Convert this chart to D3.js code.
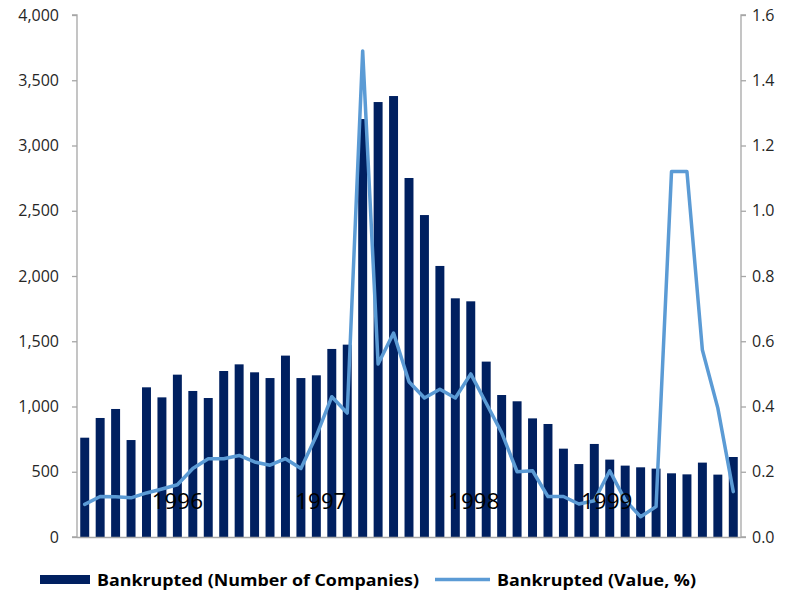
<!DOCTYPE html>
<html>
<head>
<meta charset="utf-8">
<script src="https://cdn.jsdelivr.net/npm/d3@7"></script>
<style>
  html, body { margin: 0; padding: 0; background: #fff; }
  svg { display: block; font-family: "Open Sans", "Noto Sans", sans-serif; }
</style>
</head>
<body>
<svg id="chart" width="789" height="594"></svg>
<script>
// Period index of each observation (43 periods)
const periods = d3.range(1, 44);

// Number of bankrupted companies per period (left axis)
const bankruptCount = [
  761, 912, 981, 743, 1147, 1070, 1244, 1119, 1065, 1272,
  1323, 1262, 1218, 1390, 1218, 1239, 1441, 1474, 3203, 3333,
  3379, 2751, 2467, 2077, 1829, 1806, 1344, 1088, 1040, 909,
  866, 677, 559, 713, 593, 547, 534, 524, 488, 480,
  570, 478, 613
];

// Bankrupted value share, % (right axis)
const bankruptValue = [
  0.10, 0.124, 0.123, 0.12, 0.135, 0.147, 0.16, 0.21, 0.24, 0.24,
  0.25, 0.23, 0.22, 0.24, 0.21, 0.31, 0.43, 0.38, 1.49, 0.53,
  0.625, 0.476, 0.426, 0.453, 0.426, 0.50, 0.41, 0.32, 0.20, 0.203,
  0.124, 0.124, 0.101, 0.111, 0.203, 0.113, 0.062, 0.093, 1.12, 1.12,
  0.573, 0.395, 0.139
];

// Year labels and the period position they sit over
const yearLabels = ["1996", "1997", "1998", "1999"];
const yearPositions = [6.0, 15.3, 25.2, 33.8];

// Axis ticks
const leftTicks = [0, 500, 1000, 1500, 2000, 2500, 3000, 3500, 4000];
const rightTicks = [0, 0.2, 0.4, 0.6, 0.8, 1.0, 1.2, 1.4, 1.6];

const seriesNames = ["Bankrupted (Number of Companies)", "Bankrupted (Value, %)"];

const barColor = "#002060";
const lineColor = "#5B9BD5";
const axisColor = "#a6a6a6";
const tickText = "#262626";

const svg = d3.select("#chart");
const plot = { left: 77, right: 741, top: 15, bottom: 537 };

const x = d3.scaleBand()
  .domain(periods)
  .range([plot.left, plot.right])
  .paddingInner(0.42)
  .paddingOuter(0.21);

const yLeft = d3.scaleLinear().domain([0, 4000]).range([plot.bottom, plot.top]);
const yRight = d3.scaleLinear().domain([0, 1.6]).range([plot.bottom, plot.top]);

// position scale for labels placed by period index
const xPos = d3.scaleLinear()
  .domain([0, periods.length])
  .range([plot.left, plot.right]);

// Bars
svg.append("g")
  .selectAll("rect")
  .data(bankruptCount)
  .join("rect")
  .attr("x", (d, i) => x(periods[i]))
  .attr("y", d => yLeft(d))
  .attr("width", x.bandwidth())
  .attr("height", d => yLeft(0) - yLeft(d))
  .attr("fill", barColor);

// Line
const line = d3.line()
  .x((d, i) => x(periods[i]) + x.bandwidth() / 2)
  .y(d => yRight(d));

svg.append("path")
  .datum(bankruptValue)
  .attr("d", line)
  .attr("fill", "none")
  .attr("stroke", lineColor)
  .attr("stroke-width", 3.5)
  .attr("stroke-linejoin", "round")
  .attr("stroke-linecap", "round");

// Year labels inside the plot, drawn above the series
svg.append("g")
  .selectAll("text")
  .data(yearLabels)
  .join("text")
  .attr("x", (d, i) => xPos(yearPositions[i] + 0.5))
  .attr("y", 509)
  .attr("text-anchor", "middle")
  .attr("font-size", 22.5)
  .attr("fill", "#000")
  .text(d => d);

// Axes
const leftAxis = d3.axisLeft(yLeft)
  .tickValues(leftTicks)
  .tickFormat(d3.format(","))
  .tickSize(5)
  .tickPadding(13);

const rightAxis = d3.axisRight(yRight)
  .tickValues(rightTicks)
  .tickFormat(d3.format(".1f"))
  .tickSize(5)
  .tickPadding(6);

function styleAxis(g) {
  g.select(".domain").attr("stroke", axisColor).attr("stroke-width", 1.3);
  g.selectAll(".tick line").attr("stroke", axisColor).attr("stroke-width", 1.3);
  g.selectAll(".tick text")
    .attr("fill", tickText)
    .attr("font-size", 16)
    .attr("font-family", "'Open Sans', 'Noto Sans', sans-serif");
}

svg.append("g")
  .attr("transform", `translate(${plot.left},0)`)
  .call(leftAxis)
  .call(g => g.select(".domain").attr("d", `M-5,${plot.top}H0V${plot.bottom}H-5`))
  .call(styleAxis);

svg.append("g")
  .attr("transform", `translate(${plot.right},0)`)
  .call(rightAxis)
  .call(g => g.select(".domain").attr("d", `M5,${plot.top}H0V${plot.bottom}H5`))
  .call(styleAxis);

// Category baseline
svg.append("line")
  .attr("x1", plot.left)
  .attr("x2", plot.right)
  .attr("y1", plot.bottom + 0.5)
  .attr("y2", plot.bottom + 0.5)
  .attr("stroke", axisColor)
  .attr("stroke-width", 1.3);

// Legend
const legend = svg.append("g");
legend.append("rect")
  .attr("x", 40).attr("y", 575)
  .attr("width", 50).attr("height", 9)
  .attr("fill", barColor);
legend.append("text")
  .attr("x", 97).attr("y", 586)
  .attr("font-size", 16.5)
  .attr("font-weight", "bold")
  .attr("fill", "#000")
  .attr("textLength", 322)
  .attr("lengthAdjust", "spacingAndGlyphs")
  .text(seriesNames[0]);
legend.append("line")
  .attr("x1", 435).attr("x2", 490)
  .attr("y1", 579.5).attr("y2", 579.5)
  .attr("stroke", lineColor)
  .attr("stroke-width", 3.5);
legend.append("text")
  .attr("x", 497).attr("y", 586)
  .attr("font-size", 16.5)
  .attr("font-weight", "bold")
  .attr("fill", "#000")
  .attr("textLength", 199)
  .attr("lengthAdjust", "spacingAndGlyphs")
  .text(seriesNames[1]);
</script>
</body>
</html>
